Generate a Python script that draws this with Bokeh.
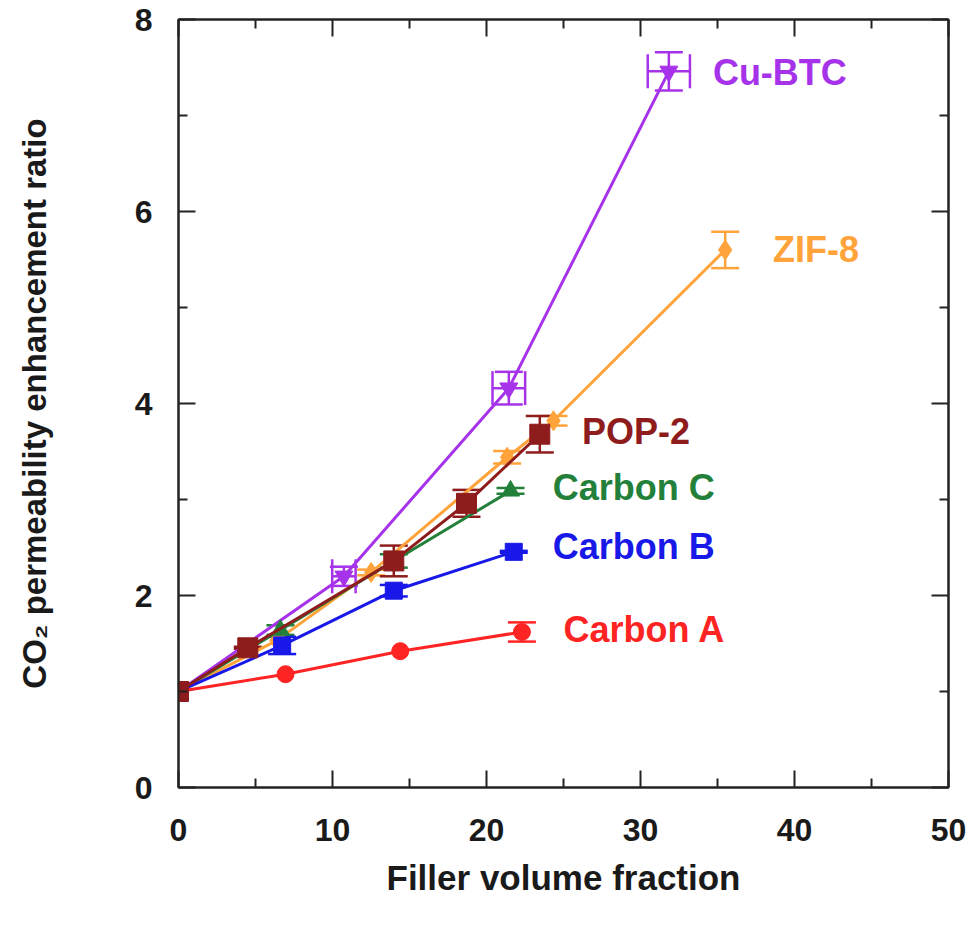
from bokeh.plotting import figure
from bokeh.models import ColumnDataSource, Whisker, TeeHead, LinearAxis, Range1d, Label, FixedTicker
from bokeh.embed import file_html
from bokeh.resources import INLINE

# ---------------- data ----------------
carbon_a_x = [0, 6.95, 14.4, 22.3]
carbon_a_y = [1.0, 1.18, 1.42, 1.62]
carbon_a_yerr = [0, 0, 0, 0.10]

carbon_b_x = [0, 6.73, 13.98, 21.77]
carbon_b_y = [1.0, 1.48, 2.05, 2.455]
carbon_b_yerr = [0, 0.09, 0.06, 0.01]

carbon_c_x = [0, 6.62, 13.98, 21.56]
carbon_c_y = [1.0, 1.64, 2.36, 3.09]
carbon_c_yerr = [0, 0.05, 0.07, 0.03]

zif8_x = [0, 6.36, 12.51, 21.34, 24.35, 35.5]
zif8_y = [1.0, 1.53, 2.24, 3.44, 3.82, 5.60]
zif8_yerr = [0, 0, 0.03, 0.065, 0.05, 0.19]

pop2_x = [0, 4.5, 13.98, 18.7, 23.46]
pop2_y = [1.0, 1.455, 2.36, 2.96, 3.68]
pop2_yerr = [0, 0.01, 0.16, 0.14, 0.19]

cubtc_x = [0, 10.74, 21.45, 31.84]
cubtc_y = [1.0, 2.20, 4.16, 7.46]
cubtc_xerr = [0, 0.76, 1.06, 1.37]
cubtc_yerr = [0, 0.10, 0.17, 0.20]

x_ticks = [0, 10, 20, 30, 40, 50]
x_minor = [5, 15, 25, 35, 45]
y_ticks = [0, 2, 4, 6, 8]
y_minor = [1, 3, 5, 7]

# ---------------- styling ----------------
FONT = "Liberation Sans"
AX = "#222222"

p = figure(frame_width=770, frame_height=768,
           min_border_left=178, min_border_right=20, min_border_top=19, min_border_bottom=135,
           x_range=Range1d(0, 50), y_range=Range1d(0, 8),
           output_backend="svg", toolbar_location=None, tools="")
p.background_fill_color = "white"
p.border_fill_color = "white"
p.outline_line_color = AX
p.outline_line_width = 2
p.xgrid.visible = False
p.ygrid.visible = False

for ax in p.xaxis:
    ax.ticker = FixedTicker(ticks=x_ticks, minor_ticks=x_minor)
    ax.axis_label = "Filler volume fraction"
    ax.axis_label_text_font = FONT
    ax.axis_label_text_font_style = "bold"
    ax.axis_label_text_font_size = "35px"
    ax.axis_label_standoff = 14
    ax.major_label_text_font = FONT
    ax.major_label_text_font_style = "bold"
    ax.major_label_text_font_size = "32px"
    ax.major_label_standoff = 31

for ax in p.yaxis:
    ax.ticker = FixedTicker(ticks=y_ticks, minor_ticks=y_minor)
    ax.axis_label = "CO\u2082 permeability enhancement ratio"
    ax.axis_label_text_font = FONT
    ax.axis_label_text_font_style = "bold"
    ax.axis_label_text_font_size = "33px"
    ax.axis_label_standoff = 79
    ax.major_label_text_font = FONT
    ax.major_label_text_font_style = "bold"
    ax.major_label_text_font_size = "32px"
    ax.major_label_standoff = 26
    ax.major_label_orientation = "horizontal"

for ax in list(p.xaxis) + list(p.yaxis):
    ax.axis_line_color = AX
    ax.axis_line_width = 2
    ax.major_tick_in = 17
    ax.major_tick_out = 0
    ax.minor_tick_in = 9
    ax.minor_tick_out = 0
    ax.major_tick_line_color = AX
    ax.minor_tick_line_color = AX
    ax.major_tick_line_width = 2
    ax.minor_tick_line_width = 2
    ax.major_label_text_color = "#1a1a1a"
    ax.axis_label_text_color = "#1a1a1a"


def box_axis(ticks, minor):
    return LinearAxis(ticker=FixedTicker(ticks=ticks, minor_ticks=minor),
                      major_label_overrides={t: "" for t in ticks},
                      major_label_text_font_size="1px", major_label_standoff=0,
                      major_tick_in=17, major_tick_out=0, minor_tick_in=9, minor_tick_out=0,
                      axis_line_color=AX, axis_line_width=2,
                      major_tick_line_width=2, minor_tick_line_width=2,
                      major_tick_line_color=AX, minor_tick_line_color=AX)


p.add_layout(box_axis(x_ticks, x_minor), "above")
p.add_layout(box_axis(y_ticks, y_minor), "right")

# ---------------- series ----------------
series = [
    dict(name="Cu-BTC", x=cubtc_x, y=cubtc_y, yerr=cubtc_yerr, xerr=cubtc_xerr,
         color="#A633EA", marker="inverted_triangle", size=18, lab=(34.7, 7.45)),
    dict(name="ZIF-8", x=zif8_x, y=zif8_y, yerr=zif8_yerr, xerr=None,
         color="#FFA33A", marker="diamond", size=20, lab=(38.6, 5.60)),
    dict(name="Carbon C", x=carbon_c_x, y=carbon_c_y, yerr=carbon_c_yerr, xerr=None,
         color="#22803A", marker="triangle", size=18, lab=(24.3, 3.12)),
    dict(name="Carbon B", x=carbon_b_x, y=carbon_b_y, yerr=carbon_b_yerr, xerr=None,
         color="#1818E8", marker="square", size=17, lab=(24.3, 2.51)),
    dict(name="Carbon A", x=carbon_a_x, y=carbon_a_y, yerr=carbon_a_yerr, xerr=None,
         color="#FF2424", marker="circle", size=17, lab=(25.0, 1.65)),
    dict(name="POP-2", x=pop2_x, y=pop2_y, yerr=pop2_yerr, xerr=None,
         color="#8E1C1C", marker="square", size=20, lab=(26.2, 3.71)),
]

for s in series:
    c = s["color"]
    src = ColumnDataSource(dict(x=s["x"], y=s["y"]))
    p.line("x", "y", source=src, line_color=c, line_width=3)
    ex = [xi for xi, e in zip(s["x"], s["yerr"]) if e > 0]
    ey = [yi for yi, e in zip(s["y"], s["yerr"]) if e > 0]
    ee = [e for e in s["yerr"] if e > 0]
    if ex:
        esrc = ColumnDataSource(dict(x=ex, lo=[a - b for a, b in zip(ey, ee)], hi=[a + b for a, b in zip(ey, ee)]))
        p.add_layout(Whisker(source=esrc, base="x", lower="lo", upper="hi", dimension="height",
                             line_color=c, line_width=2.5,
                             upper_head=TeeHead(size=28, line_color=c, line_width=2.5),
                             lower_head=TeeHead(size=28, line_color=c, line_width=2.5)))
    if s["xerr"]:
        fx = [xi for xi, e in zip(s["x"], s["xerr"]) if e > 0]
        fy = [yi for yi, e in zip(s["y"], s["xerr"]) if e > 0]
        fe = [e for e in s["xerr"] if e > 0]
        fsrc = ColumnDataSource(dict(y=fy, lo=[a - b for a, b in zip(fx, fe)], hi=[a + b for a, b in zip(fx, fe)]))
        p.add_layout(Whisker(source=fsrc, base="y", lower="lo", upper="hi", dimension="width",
                             line_color=c, line_width=2.5,
                             upper_head=TeeHead(size=34, line_color=c, line_width=2.5),
                             lower_head=TeeHead(size=34, line_color=c, line_width=2.5)))
    p.scatter("x", "y", source=src, marker=s["marker"], size=s["size"],
              fill_color=c, line_color=c, line_width=1)
    lx, ly = s["lab"]
    p.add_layout(Label(x=lx, y=ly, text=s["name"], text_color=c, text_font=FONT,
                       text_font_style="bold", text_font_size="36px",
                       text_baseline="middle", text_align="left"))

open("out.html", "w").write(file_html(p, INLINE))
